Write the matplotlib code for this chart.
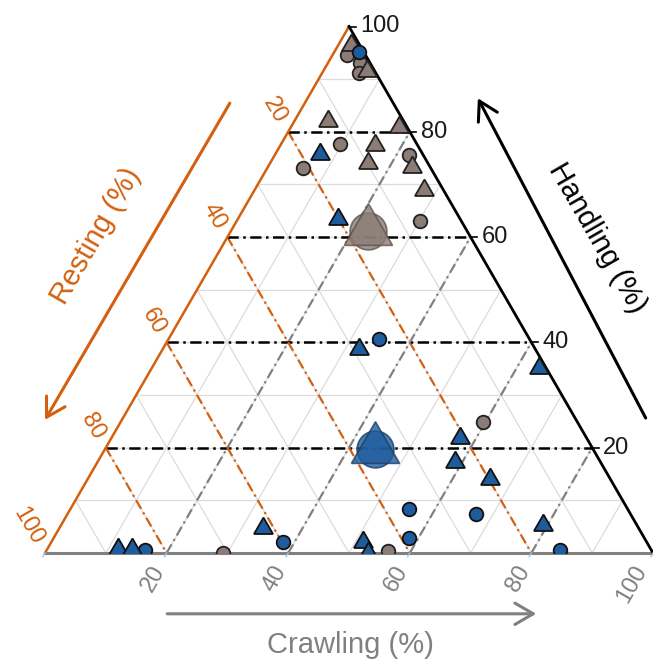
import numpy as np
import matplotlib
matplotlib.use("Agg")
import matplotlib.pyplot as plt

plt.rcParams['font.family'] = ['Liberation Sans', 'DejaVu Sans']

# composition values (% crawling, % handling); resting = 100 - crawling - handling
blue_circle_crawl = [4.0, 34.7, 16.2, 38.1, 55.8, 58.5, 67.1, 84.4]
blue_circle_handle = [95.2, 40.6, 0.5, 2.1, 8.3, 2.8, 7.5, 0.6]

blue_tri_crawl = [7.4, 16.4, 32.2, 63.7, 57.3, 58.8, 66.1, 11.6, 13.9, 33.5, 51.3, 53.2, 79.2]
blue_tri_handle = [75.7, 63.5, 38.8, 35.2, 21.9, 17.3, 14.1, 0.8, 0.8, 4.8, 2.1, 0.0, 5.4]

grey_circle_crawl = [2.4, 5.3, 6.0, 9.7, 5.9, 22.0, 30.1, 59.6, 29.3, 56.2]
grey_circle_handle = [94.6, 93.1, 91.2, 77.7, 73.1, 75.6, 63.1, 24.8, 0.0, 0.3]

grey_tri_crawl = [2.0, 7.2, 5.5, 17.8, 15.6, 16.2, 23.6, 27.9]
grey_tri_handle = [96.5, 91.6, 82.1, 81.0, 77.4, 74.0, 73.4, 69.0]

# group means (large symbols)
mean_crawl = {'grey': 22.65, 'blue': 44.4}
mean_handle = {'grey': 61.1, 'blue': 19.8}

ticks = [20, 40, 60, 80, 100]

BLUE = '#1f5c9e'
GREY = '#8b7d76'
ORANGE = '#d2600f'
AXGREY = '#808080'
S3 = np.sqrt(3) / 2


def to_xy(crawl, handle):
    crawl = np.asarray(crawl, dtype=float)
    handle = np.asarray(handle, dtype=float)
    return crawl + handle / 2, handle * S3


fig = plt.figure(figsize=(6.53, 6.61), dpi=100)
ax = fig.add_axes([45 / 653, 108 / 661, 608 / 653, 526.5 / 661])
ax.set_xlim(0, 100)
ax.set_ylim(0, 100 * S3)
ax.axis('off')


def seg(c0, h0, c1, h1, **kw):
    x, y = to_xy([c0, c1], [h0, h1])
    ax.plot(x, y, **kw)


# light background grid every 10 %
for v in range(10, 100, 10):
    kw = dict(color='#dcdcdc', lw=0.9, zorder=1)
    seg(0, v, 100 - v, v, **kw)
    seg(0, 100 - v, 100 - v, 0, **kw)
    seg(v, 0, v, 100 - v, **kw)

# dash-dot guides every 20 %
dd = (4.5, 1.8, 1, 1.8)
for v in ticks[:-1]:
    seg(0, v, 100 - v, v, color='black', lw=1.8, dashes=dd, zorder=2)
    seg(0, 100 - v, 100 - v, 0, color=ORANGE, lw=1.6, dashes=dd, zorder=2)
    seg(v, 0, v, 100 - v, color=AXGREY, lw=1.6, dashes=dd, zorder=2)

# triangle edges
seg(0, 0, 0, 100, color=ORANGE, lw=1.8, zorder=3, clip_on=False)
seg(0, 0, 100, 0, color=AXGREY, lw=2.2, zorder=3, clip_on=False)
seg(100, 0, 0, 100, color='black', lw=2.0, zorder=3, clip_on=False)

# ticks and tick labels
for v in ticks:
    # handling on the right edge
    x, y = to_xy(100 - v, v)
    ax.plot([x, x + 1.1], [y, y], color='black', lw=1.2, clip_on=False, zorder=3)
    ax.annotate(str(v), xy=(x, y), xytext=(8, 0), textcoords='offset points',
                ha='left', va='center', fontsize=17, color='#1a1a1a',
                annotation_clip=False)
    # resting on the left edge
    x, y = to_xy(0, 100 - v)
    ax.annotate(str(v), xy=(x, y), xytext=(-5, 7), textcoords='offset points',
                ha='right', va='center', rotation=-60, rotation_mode='anchor',
                fontsize=17, color=ORANGE, annotation_clip=False)
    # crawling on the bottom edge (last label kept inside the figure)
    x, y = to_xy(v, 0)
    off = (-8, -10) if v == 100 else (-5, -10)
    ax.annotate(str(v), xy=(x, y), xytext=off, textcoords='offset points',
                ha='right', va='center', rotation=60, rotation_mode='anchor',
                fontsize=17, color=AXGREY, annotation_clip=False)

for v in [0] + ticks:
    x, y = to_xy(v, 0)
    ax.plot([x, x - 0.35], [y, y - 0.6], color='#9cc3e8', lw=1.0,
            clip_on=False, zorder=3)

# data points
tri = (3, 0, 0)
x, y = to_xy(grey_circle_crawl, grey_circle_handle)
ax.plot(x, y, 'o', ms=9.8, mfc=GREY, mec='#222222', mew=1.3, zorder=5)
x, y = to_xy(grey_tri_crawl, grey_tri_handle)
ax.plot(x, y, ls='none', marker=tri, ms=15.8, mfc=GREY, mec='#222222', mew=1.3, zorder=5)
x, y = to_xy(blue_circle_crawl, blue_circle_handle)
ax.plot(x, y, 'o', ms=9.8, mfc=BLUE, mec='#111111', mew=1.3, zorder=6)
x, y = to_xy(blue_tri_crawl, blue_tri_handle)
ax.plot(x, y, ls='none', marker=tri, ms=15.8, mfc=BLUE, mec='#111111', mew=1.3, zorder=6)

for key, col, edge in [('grey', GREY, '#5e5550'), ('blue', BLUE, '#1a3f66')]:
    x, y = to_xy([mean_crawl[key]], [mean_handle[key]])
    ax.plot(x, y, 'o', ms=26.5, mfc=col, mec=edge, mew=1.2, alpha=0.8, zorder=7)
    ax.plot(x, y, ls='none', marker=tri, ms=40, mfc=col, mec=edge, mew=1.2,
            alpha=0.8, zorder=7)

# axis arrows and titles
arrow = dict(lw=2.2, shrinkA=0, shrinkB=0, mutation_scale=22)
head = '->,head_length=0.6,head_width=0.35'
ax.annotate('', xy=(0.0, 21.9), xytext=(30.4, 74.0), annotation_clip=False,
            arrowprops=dict(arrowstyle=head, color=ORANGE, **arrow))
ax.annotate('', xy=(71.2, 74.8), xytext=(98.8, 22.2), annotation_clip=False,
            arrowprops=dict(arrowstyle=head, color='black', **arrow))
ax.annotate('', xy=(80.8, -10.0), xytext=(20.1, -10.0), annotation_clip=False,
            arrowprops=dict(arrowstyle=head, color=AXGREY, **arrow))

ax.text(8.4, 52.1, 'Resting (%)', rotation=60, rotation_mode='anchor',
        ha='center', va='center', fontsize=21, color=ORANGE)
ax.text(90.9, 51.8, 'Handling (%)', rotation=-60, rotation_mode='anchor',
        ha='center', va='center', fontsize=21, color='black')
ax.text(50.3, -15.1, 'Crawling (%)', ha='center', va='center',
        fontsize=21, color=AXGREY)

fig.savefig('out.png', dpi=100)
